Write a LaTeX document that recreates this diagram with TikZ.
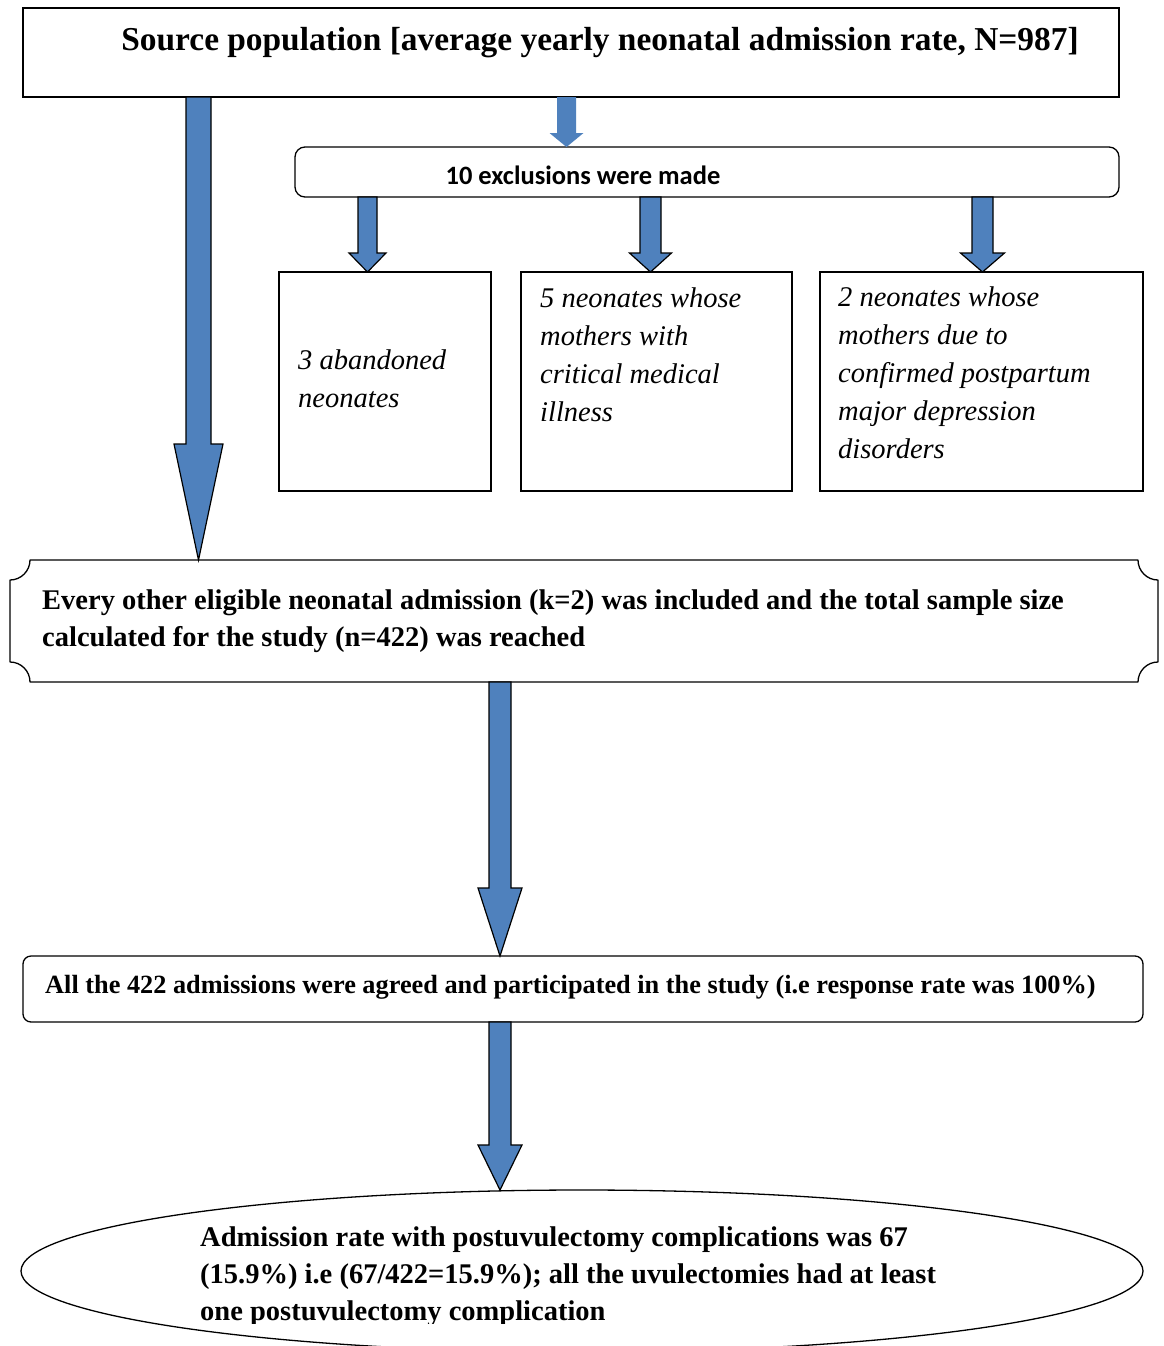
\documentclass[tikz,border=0pt]{standalone}
\usepackage{fontspec}
\setmainfont{Liberation Serif}
\newfontfamily\calib{Carlito}
\usetikzlibrary{shapes.geometric}
\definecolor{arrowblue}{HTML}{4F81BD}
\tikzset{
  boxline/.style={draw=black, line width=1.3pt},
  blk/.style={fill=arrowblue, draw=black, line width=1.2pt, line join=miter},
  txt/.style={inner sep=0pt, anchor=base west, align=left},
  boldtxt/.style={txt, font=\bfseries\fontsize{#1}{37}\selectfont},
  itxt/.style={txt, font=\itshape\fontsize{28.5}{38}\selectfont},
}
% [opts]{cx}{ytop}{yhead}{ytip}{half shaft}{half head}
\newcommand{\blkarrow}[7][]{%
  \filldraw[blk,#1] ({#2-#6},#3) -- ({#2-#6},#4) -- ({#2-#7},#4) -- (#2,#5)
    -- ({#2+#7},#4) -- ({#2+#6},#4) -- ({#2+#6},#3) -- cycle;}
\begin{document}
\begin{tikzpicture}[x=1pt,y=-1pt]
\useasboundingbox (0,0) rectangle (1163,1346);
\fill[white] (0,0) rectangle (1163,1346);

% top box
\node[boxline, minimum width=1096pt, minimum height=89pt, inner sep=0pt] (src) at (571,52.5) {};
\node[inner sep=0pt, anchor=base, font=\bfseries\fontsize{33.4}{38}\selectfont] (srctxt) at (600,51)
  {Source population [average yearly neonatal admission rate, N=987]};

% exclusions box
\node[boxline, rounded corners=10pt, minimum width=824pt, minimum height=50pt, inner sep=0pt] (excl) at (707,172) {};
\node[inner sep=0pt, anchor=base, font=\calib\bfseries\fontsize{26.5}{30}\selectfont] (excltxt) at (583,184) {10 exclusions were made};

% three exclusion boxes
\node[boxline, minimum width=212pt, minimum height=219pt, inner sep=0pt] (ex1) at (385,381.5) {};
\node[boxline, minimum width=271pt, minimum height=219pt, inner sep=0pt] (ex2) at (656.5,381.5) {};
\node[boxline, minimum width=323pt, minimum height=219pt, inner sep=0pt] (ex3) at (981.5,381.5) {};
\node[itxt] (ex1txt) at (298,407) {3 abandoned\\neonates};
\node[itxt] (ex2txt) at (540,421) {5 neonates whose\\mothers with\\critical medical\\illness};
\node[itxt] (ex3txt) at (838,458) {2 neonates whose\\mothers due to\\confirmed postpartum\\major depression\\disorders};

% plaque box
\draw[boxline, line join=round] (30,560) -- (1138,560) .. controls (1138,571) and (1147,580) .. (1158,580)
  -- (1158,662) .. controls (1147,662) and (1138,671) .. (1138,682)
  -- (30,682) .. controls (30,671) and (21,662) .. (10,662)
  -- (10,580) .. controls (21,580) and (30,571) .. (30,560) -- cycle;
\node[minimum width=1148pt, minimum height=122pt, inner sep=0pt] (plaque) at (584,621) {};
\node[boldtxt=28.5] (plaquetxt) at (42,646)
  {Every other eligible neonatal admission (k=2) was included and the total sample size\\calculated for the study (n=422) was reached};

% response box
\node[boxline, rounded corners=8pt, minimum width=1120pt, minimum height=66pt, inner sep=0pt] (resp) at (583,989) {};
\node[boldtxt=26.3] (resptxt) at (45,993)
  {All the 422 admissions were agreed and participated in the study (i.e response rate was 100\%)};

% outcome ellipse
\node[boxline, ellipse, minimum width=1122pt, minimum height=162pt, inner sep=0pt] (outc) at (582,1271) {};
\begin{scope}
\clip (0,0) rectangle (1163,1323);
\node[boldtxt=28.5] (outctxt) at (200,1320)
  {Admission rate with postuvulectomy complications was 67\\(15.9\%) i.e (67/422=15.9\%); all the uvulectomies had at least\\one postuvulectomy complication};
\end{scope}

% arrows
\blkarrow{198.5}{97}{444}{560}{12.5}{24.5}
\blkarrow[draw=none]{566.5}{97}{133}{147}{9.5}{17}
\blkarrow{367.5}{197}{253}{272}{9.5}{18.5}
\blkarrow{650.5}{197}{253}{272}{10.5}{21}
\blkarrow{982.5}{197}{253}{272}{10.5}{22}
\blkarrow{500}{682}{888}{956}{11}{22}
\blkarrow{500}{1022}{1145}{1190}{11}{22}
\end{tikzpicture}
\end{document}
